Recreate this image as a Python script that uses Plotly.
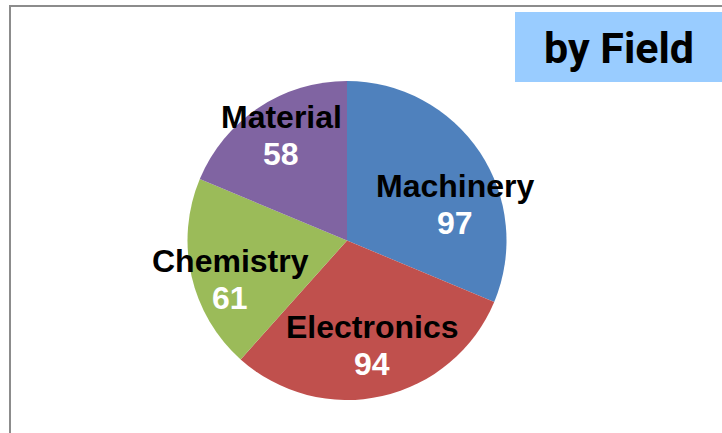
import plotly.graph_objects as go

W, H = 722, 433

categories = ["Machinery", "Electronics", "Chemistry", "Material"]
values = [97, 94, 61, 58]
colors = ["#4F81BD", "#C0504D", "#9BBB59", "#8064A2"]
title_text = "by Field"

# label placements (pixel centers of the category name; value sits below)
label_pos = [(455, 186), (372, 327), (230, 261), (281, 117)]
value_dy = 37

def px(x):
    return x / W

def py(y):
    return 1 - y / H

cx, cy, r = 347.0, 240.5, 159.5

fig = go.Figure(go.Pie(
    labels=categories,
    values=values,
    marker=dict(colors=colors, line=dict(width=0)),
    sort=False,
    direction="clockwise",
    rotation=0,
    textinfo="none",
    hoverinfo="label+value",
    showlegend=False,
    domain=dict(x=[px(cx - r), px(cx + r)], y=[py(cy + r), py(cy - r)]),
))

annotations = []
for (lx, ly), cat, val in zip(label_pos, categories, values):
    annotations.append(dict(
        x=px(lx), y=py(ly), xref="paper", yref="paper",
        text=f"<b>{cat}</b>", showarrow=False,
        xanchor="center", yanchor="middle",
        font=dict(family="Liberation Sans, Arial, sans-serif", size=32, color="black"),
    ))
    annotations.append(dict(
        x=px(lx), y=py(ly + value_dy), xref="paper", yref="paper",
        text=f"<b>{val}</b>", showarrow=False,
        xanchor="center", yanchor="middle",
        font=dict(family="Liberation Sans, Arial, sans-serif", size=32, color="white"),
    ))

annotations.append(dict(
    x=px(619), y=py(48), xref="paper", yref="paper",
    text=f"<b>{title_text}</b>", showarrow=False,
    xanchor="center", yanchor="middle",
    font=dict(family="Roboto, sans-serif", size=43, color="black"),
))

shapes = [
    dict(type="rect", xref="paper", yref="paper",
         x0=px(515), x1=px(722), y0=py(82), y1=py(12),
         fillcolor="#99CCFF", line=dict(width=0), layer="below"),
    dict(type="line", xref="paper", yref="paper",
         x0=px(9), x1=px(722), y0=py(6), y1=py(6),
         line=dict(color="#8C8C8C", width=2)),
    dict(type="line", xref="paper", yref="paper",
         x0=px(10), x1=px(10), y0=py(5), y1=py(433),
         line=dict(color="#8C8C8C", width=2)),
]

fig.update_layout(
    width=W, height=H,
    margin=dict(l=0, r=0, t=0, b=0),
    paper_bgcolor="white",
    plot_bgcolor="white",
    annotations=annotations,
    shapes=shapes,
)

fig.write_html(
    "out.html",
    config={"displayModeBar": False},
    post_script="document.body.style.margin='0';document.body.style.overflow='hidden';",
)
